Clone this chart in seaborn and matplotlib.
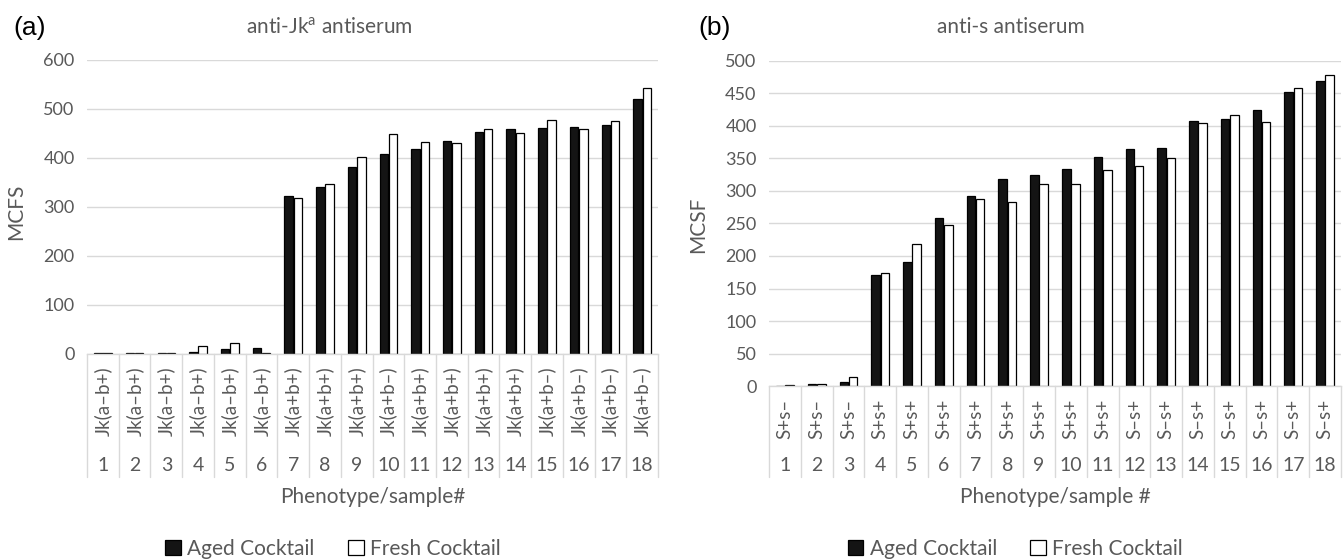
import pandas as pd
import seaborn as sns
import matplotlib.pyplot as plt
from matplotlib.patches import Patch

# ---------- data ----------
samples = [str(i) for i in range(1, 19)]

jk_phenotypes = ["Jk(a–b+)"] * 6 + ["Jk(a+b+)"] * 3 + ["Jk(a+b–)"] + ["Jk(a+b+)"] * 4 + ["Jk(a+b–)"] * 4
jk_aged = [1, 1, 2, 4, 10, 13, 322, 340, 381, 408, 418, 435, 452, 460, 462, 464, 468, 520]
jk_fresh = [1, 3, 2, 16, 23, 1, 318, 347, 401, 449, 432, 431, 460, 451, 477, 459, 476, 543]

s_phenotypes = ["S+s–"] * 3 + ["S+s+"] * 8 + ["S–s+"] * 7
s_aged = [0, 3, 6, 171, 190, 259, 292, 319, 324, 334, 353, 364, 366, 408, 411, 424, 453, 469]
s_fresh = [1, 3, 14, 174, 219, 247, 287, 283, 311, 310, 333, 339, 351, 405, 417, 406, 459, 479]

series = ["Aged Cocktail", "Fresh Cocktail"]

TEXT = "#595959"
GRID = "#d9d9d9"
palette = {"Aged Cocktail": "#141414", "Fresh Cocktail": "white"}

sns.set_theme(style="white")
plt.rcParams["font.family"] = ["Lato", "DejaVu Sans"]


def long_table(aged, fresh):
    return pd.DataFrame({
        "sample": samples * 2,
        "value": aged + fresh,
        "series": [series[0]] * len(aged) + [series[1]] * len(fresh),
    })


def draw_panel(ax, data, phenotypes, yticks, ylabel, xlabel, num_y, sep_y, ylab_y):
    sns.barplot(data=data, x="sample", y="value", hue="series", order=samples,
                hue_order=series, palette=palette, edgecolor="black",
                linewidth=0.9, width=0.58, gap=0.08, legend=False, ax=ax)
    ax.set_xlim(-0.5, len(samples) - 0.5)
    ax.set_ylim(yticks[0], yticks[-1])
    ax.set_yticks(yticks)
    ax.set_yticklabels([str(t) for t in yticks], color=TEXT, fontsize=13)
    ax.tick_params(axis="y", length=0, pad=9)
    ax.grid(axis="y", color=GRID, linewidth=1.0)
    ax.set_axisbelow(True)
    for side in ["left", "right", "top"]:
        ax.spines[side].set_visible(False)
    ax.spines["bottom"].set_color(GRID)
    ax.spines["bottom"].set_linewidth(1.0)

    ax.set_xticks(range(len(samples)))
    ax.set_xticklabels(phenotypes, rotation=90, color=TEXT, fontsize=13.5)
    ax.tick_params(axis="x", length=0, pad=9)

    # category table below the axis: sample numbers and separator lines
    trans = ax.get_xaxis_transform()
    for i, s in enumerate(samples):
        ax.text(i, num_y, s, transform=trans, ha="center", va="center",
                color=TEXT, fontsize=14)
    for b in range(len(samples) + 1):
        ax.plot([b - 0.5, b - 0.5], [0, sep_y], transform=trans, color=GRID,
                linewidth=1.0, clip_on=False)

    ax.set_ylabel(ylabel, color=TEXT, fontsize=15)
    ax.yaxis.set_label_coords(-0.106, ylab_y)
    ax.set_xlabel(xlabel, color=TEXT, fontsize=15)
    ax.xaxis.set_label_coords(0.5, num_y - (0.11 if num_y < -0.3 else 0.095))
    ax.xaxis.label.set_va("center")


fig = plt.figure(figsize=(13.43, 5.6), dpi=100)
ax_a = fig.add_axes([0.0648, 0.3679, 0.4252, 0.525])
ax_b = fig.add_axes([0.5726, 0.3107, 0.4259, 0.5804])

draw_panel(ax_a, long_table(jk_aged, jk_fresh), jk_phenotypes,
           [0, 100, 200, 300, 400, 500, 600], "MCFS", "Phenotype/sample#",
           -0.378, -0.418, 0.483)
draw_panel(ax_b, long_table(s_aged, s_fresh), s_phenotypes,
           [0, 50, 100, 150, 200, 250, 300, 350, 400, 450, 500], "MCSF",
           "Phenotype/sample #", -0.246, -0.28, 0.495)

fig.text(0.2450, 0.952, r"anti-Jk$^{\mathregular{a}}$ antiserum", ha="center",
         va="center", color=TEXT, fontsize=15)
fig.text(0.7528, 0.952, "anti-s antiserum", ha="center", va="center",
         color=TEXT, fontsize=15)
fig.text(0.010, 0.95, "(a)", ha="left", va="center", color="black",
         fontsize=19, family=["Liberation Sans", "DejaVu Sans"])
fig.text(0.520, 0.95, "(b)", ha="left", va="center", color="black",
         fontsize=19, family=["Liberation Sans", "DejaVu Sans"])

handles = [Patch(facecolor=palette[s], edgecolor="black", linewidth=0.9) for s in series]
for cx in [0.248, 0.756]:
    leg = fig.legend(handles, series, loc="center", bbox_to_anchor=(cx, 0.02),
                     ncol=2, frameon=False, fontsize=15, handlelength=0.75,
                     handleheight=0.75, handletextpad=0.3, columnspacing=1.6)
    for t in leg.get_texts():
        t.set_color(TEXT)

fig.savefig("out.png", dpi=100)
